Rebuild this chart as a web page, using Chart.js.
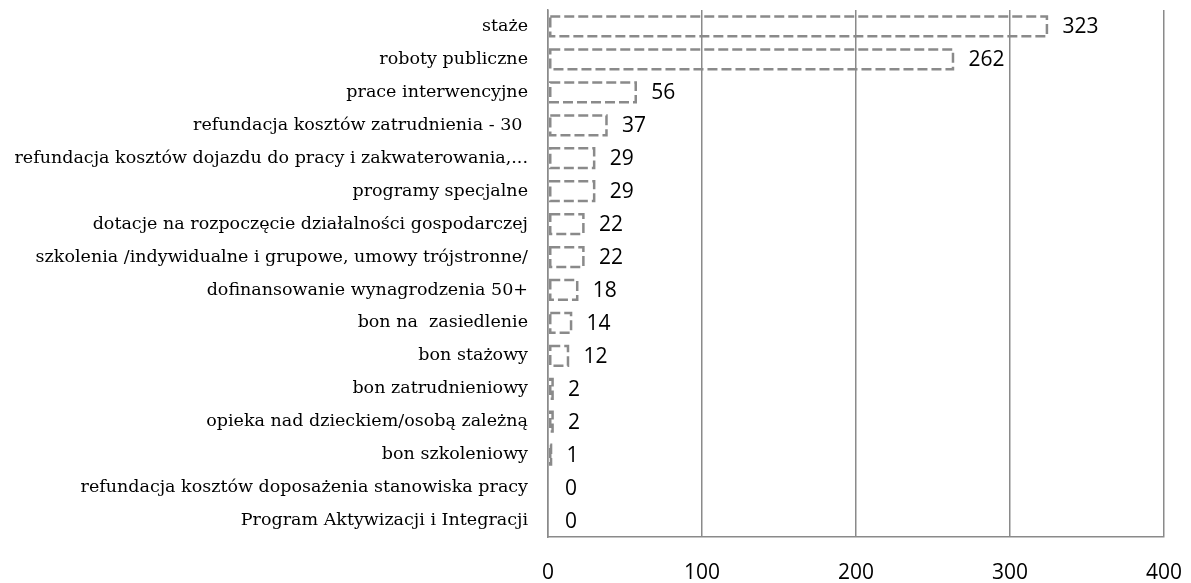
<!DOCTYPE html>
<html>
<head>
<meta charset="utf-8">
<script src="https://cdn.jsdelivr.net/npm/chart.js@4"></script>
<style>
  html, body { margin: 0; padding: 0; background: #fff; }
  #wrap { width: 1191px; height: 583px; }
</style>
</head>
<body>
<div id="wrap"><canvas id="wykres"></canvas></div>
<script>
const kategorie = [
  'staże',
  'roboty publiczne',
  'prace interwencyjne',
  'refundacja kosztów zatrudnienia - 30 ',
  'refundacja kosztów dojazdu do pracy i zakwaterowania,...',
  'programy specjalne',
  'dotacje na rozpoczęcie działalności gospodarczej',
  'szkolenia /indywidualne i grupowe, umowy trójstronne/',
  'dofinansowanie wynagrodzenia 50+',
  'bon na  zasiedlenie',
  'bon stażowy',
  'bon zatrudnieniowy',
  'opieka nad dzieckiem/osobą zależną',
  'bon szkoleniowy',
  'refundacja kosztów doposażenia stanowiska pracy',
  'Program Aktywizacji i Integracji'
];
const wartosci = [323, 262, 56, 37, 29, 29, 22, 22, 18, 14, 12, 2, 2, 1, 0, 0];
const osX = [0, 100, 200, 300, 400];

const szary = '#8a8a8a';

// obrys przerywany slupkow + etykiety wartosci
const obrysIEtykiety = {
  id: 'obrysIEtykiety',
  afterDatasetsDraw(chart) {
    const ctx = chart.ctx;
    const meta = chart.getDatasetMeta(0);
    ctx.save();
    meta.data.forEach((bar, i) => {
      const x0 = Math.min(bar.base, bar.x);
      const w = Math.abs(bar.x - bar.base);
      const y0 = bar.y - bar.height / 2;
      if (w > 0) {
        ctx.strokeStyle = szary;
        ctx.lineWidth = 2.5;
        ctx.setLineDash([10, 4]);
        ctx.strokeRect(x0 + 1.5, y0, w, bar.height);
      }
      ctx.setLineDash([]);
      ctx.fillStyle = '#000';
      ctx.font = '21px "Open Sans"';
      ctx.textBaseline = 'middle';
      ctx.textAlign = 'left';
      ctx.fillText(String(wartosci[i]), bar.x + 17, bar.y + 1);
    });
    ctx.restore();
  }
};

new Chart(document.getElementById('wykres'), {
  type: 'bar',
  data: {
    labels: kategorie,
    datasets: [{
      data: wartosci,
      backgroundColor: 'rgba(0,0,0,0)',
      borderWidth: 0,
      barPercentage: 0.6,
      categoryPercentage: 1
    }]
  },
  options: {
    indexAxis: 'y',
    responsive: true,
    maintainAspectRatio: false,
    animation: false,
    layout: { padding: { top: 10, right: 27, left: 0, bottom: 0 } },
    plugins: {
      legend: { display: false },
      tooltip: { enabled: false }
    },
    scales: {
      x: {
        min: 0,
        max: 400,
        afterBuildTicks(scale) { scale.ticks = osX.map(v => ({ value: v })); },
        afterFit(scale) {
          scale.height = 46;
          scale.paddingLeft = 0;
          scale.paddingRight = 0;
        },
        grid: { color: szary, lineWidth: 1.5, drawTicks: false },
        border: { color: szary, width: 1.5 },
        ticks: {
          color: '#000',
          padding: 23,
          font: { family: 'Open Sans', size: 21 }
        }
      },
      y: {
        afterFit(scale) {
          scale.width = 548;
          scale.paddingTop = 0;
          scale.paddingBottom = 0;
        },
        grid: { display: false, drawTicks: false },
        border: { color: szary, width: 1.5 },
        ticks: {
          color: '#000',
          padding: 20,
          autoSkip: false,
          font: { family: 'DejaVu Serif', size: 17.5 }
        }
      }
    }
  },
  plugins: [obrysIEtykiety]
});
</script>
</body>
</html>
